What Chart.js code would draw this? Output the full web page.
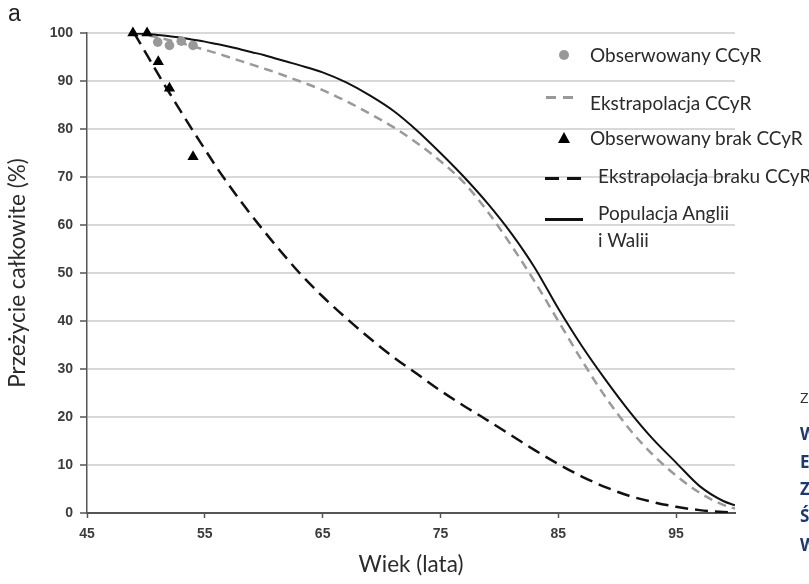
<!DOCTYPE html>
<html>
<head>
<meta charset="utf-8">
<script src="https://cdn.jsdelivr.net/npm/chart.js@4.4.0/dist/chart.umd.min.js"></script>
<style>
  html, body { margin: 0; padding: 0; background: #fff; }
  #wrap { position: relative; width: 809px; height: 584px; overflow: hidden; }
  #chart { position: absolute; left: 0; top: 0; }
  .panel { position: absolute; left: 8px; top: 0px; font: 23px "Liberation Sans", Arial, sans-serif; color: #222; }
  .leg { position: absolute; font: 19px Lato, sans-serif; color: #2b2b2b; white-space: nowrap; line-height: 27px; }
  .sym { position: absolute; }
  .side { position: absolute; left: 800px; font: bold 17px "Open Sans", sans-serif; color: #1d3a6e; }
</style>
</head>
<body>
<div id="wrap">
  <canvas id="chart" width="809" height="584"></canvas>
  <div class="panel">a</div>

  <!-- legend -->
  <div class="sym" style="left:559px;top:50px;width:10px;height:10px;border-radius:50%;background:#999;"></div>
  <div class="leg" style="left:590px;top:41px;">Obserwowany CCyR</div>

  <div class="sym" style="left:546px;top:96px;width:31px;height:2.5px;background:repeating-linear-gradient(90deg,#999 0 10px,transparent 10px 17px);"></div>
  <div class="leg" style="left:590px;top:89px;">Ekstrapolacja CCyR</div>

  <div class="sym" style="left:558px;top:132px;width:0;height:0;border-left:6px solid transparent;border-right:6px solid transparent;border-bottom:11px solid #000;"></div>
  <div class="leg" style="left:590px;top:124px;">Obserwowany brak CCyR</div>

  <div class="sym" style="left:545px;top:177px;width:38px;height:2.5px;background:repeating-linear-gradient(90deg,#111 0 14px,transparent 14px 22px);"></div>
  <div class="leg" style="left:598px;top:162px;">Ekstrapolacja braku CCyR</div>

  <div class="sym" style="left:545px;top:218px;width:38px;height:2.5px;background:#111;"></div>
  <div class="leg" style="left:598px;top:199px;">Populacja Anglii<br>i Walii</div>

  <!-- text cut off at the right edge -->
  <div class="side" style="top:387px;font-weight:normal;color:#333;font-size:15px;">Z</div>
  <div class="side" style="top:422px;">W</div>
  <div class="side" style="top:450px;">E</div>
  <div class="side" style="top:477px;">Z</div>
  <div class="side" style="top:504px;">Ś</div>
  <div class="side" style="top:533px;">W</div>
</div>

<script>
// ages (lata) shared by the three curves
const ages = [49, 50, 51, 52, 53, 54, 55, 56, 57, 58, 59, 60, 61, 62, 63,
              65, 67, 69, 71, 73, 75, 77, 79, 81, 83, 85, 87, 89, 91, 93, 95, 97, 99, 100];

// Populacja Anglii i Walii
const survPopulation = [100, 99.8, 99.6, 99.3, 99.0, 98.6, 98.2, 97.7, 97.2, 96.6, 96.0, 95.4, 94.7, 94.0, 93.3,
                        91.8, 89.7, 87.0, 83.8, 79.7, 75.0, 70.0, 64.5, 58.3, 51.1, 42.6, 34.8, 27.8, 21.3, 15.5, 10.5, 5.6, 2.5, 1.6];

// Ekstrapolacja CCyR
const survCcyrFit = [100, 99.6, 99.1, 98.5, 97.9, 97.2, 96.5, 95.8, 95.0, 94.2, 93.4, 92.6, 91.8, 90.9, 90.0,
                     88.1, 85.8, 83.2, 80.4, 77.1, 73.3, 68.8, 62.8, 55.8, 48.2, 40.0, 31.8, 24.2, 17.6, 12.2, 7.8, 4.2, 1.7, 0.9];

// Ekstrapolacja braku CCyR
const survNoCcyrFit = [100, 95.8, 91.6, 87.5, 83.5, 79.6, 75.8, 72.0, 68.5, 65.1, 61.9, 58.8, 55.8, 52.9, 50.1,
                       45.1, 40.6, 36.4, 32.5, 29.0, 25.5, 22.3, 19.3, 16.2, 13.1, 10.2, 7.6, 5.4, 3.6, 2.3, 1.3, 0.6, 0.2, 0.1];

// observed points
const obsCcyrAge = [51, 52, 53, 54];
const obsCcyrSurv = [98.1, 97.4, 98.3, 97.4];
const obsNoCcyrAge = [48.9, 50.1, 51.05, 52.0, 54.0];
const obsNoCcyrSurv = [100, 100, 94, 88.5, 74.2];

const xTicks = [45, 55, 65, 75, 85, 95];
const yTicks = [0, 10, 20, 30, 40, 50, 60, 70, 80, 90, 100];

function toPoints(xs, ys) {
    return xs.map((x, i) => ({ x: x, y: ys[i] }));
}

const tickFont = { family: 'Liberation Sans', size: 14, weight: 'bold' };
const titleFont = { family: 'Lato', size: 22.5 };

new Chart(document.getElementById('chart'), {
    type: 'scatter',
    data: {
        datasets: [
            {
                label: 'Obserwowany CCyR',
                data: toPoints(obsCcyrAge, obsCcyrSurv),
                pointStyle: 'circle',
                pointRadius: 4.8,
                backgroundColor: '#999',
                borderColor: '#999',
                borderWidth: 0,
                clip: false,
                order: 1
            },
            {
                label: 'Obserwowany brak CCyR',
                data: toPoints(obsNoCcyrAge, obsNoCcyrSurv),
                pointStyle: 'triangle',
                pointRadius: 6.5,
                backgroundColor: '#000',
                borderColor: '#000',
                borderWidth: 0,
                clip: false,
                order: 0
            },
            {
                label: 'Ekstrapolacja CCyR',
                data: toPoints(ages, survCcyrFit),
                showLine: true,
                pointRadius: 0,
                borderColor: '#9a9a9a',
                borderWidth: 2.5,
                borderDash: [9, 6],
                cubicInterpolationMode: 'monotone',
                order: 4
            },
            {
                label: 'Ekstrapolacja braku CCyR',
                data: toPoints(ages, survNoCcyrFit),
                showLine: true,
                pointRadius: 0,
                borderColor: '#111',
                borderWidth: 2.5,
                borderDash: [13, 7],
                cubicInterpolationMode: 'monotone',
                order: 3
            },
            {
                label: 'Populacja Anglii i Walii',
                data: toPoints(ages, survPopulation),
                showLine: true,
                pointRadius: 0,
                borderColor: '#111',
                borderWidth: 2,
                cubicInterpolationMode: 'monotone',
                order: 2
            }
        ]
    },
    options: {
        responsive: false,
        animation: false,
        layout: { padding: { left: 0, top: 33, right: 74, bottom: 0 } },
        plugins: {
            legend: { display: false },
            tooltip: { enabled: false }
        },
        scales: {
            x: {
                type: 'linear',
                min: 45,
                max: 100,
                afterBuildTicks: s => { s.ticks = xTicks.map(v => ({ value: v })); },
                afterFit: s => { s.height = 71; },
                ticks: { font: tickFont, color: '#3c3c3c', padding: 8 },
                grid: { drawOnChartArea: false, tickLength: 5, tickColor: '#555', tickWidth: 1.5 },
                border: { color: '#555', width: 2 },
                title: {
                    display: true,
                    text: 'Wiek (lata)',
                    font: titleFont,
                    color: '#2b2b2b',
                    padding: { top: 0, bottom: 6 }
                }
            },
            y: {
                min: 0,
                max: 100,
                afterBuildTicks: s => { s.ticks = yTicks.map(v => ({ value: v })); },
                afterFit: s => { s.width = 87; },
                ticks: { font: tickFont, color: '#3c3c3c', padding: 7 },
                grid: {
                    color: c => (c.tick && c.tick.value === 0) ? 'rgba(0,0,0,0)' : '#d9d9d9',
                    lineWidth: 2,
                    tickLength: 7,
                    tickColor: '#555',
                    tickWidth: 1.5
                },
                border: { color: '#555', width: 1.5 },
                title: {
                    display: true,
                    text: 'Przeżycie całkowite (%)',
                    font: titleFont,
                    color: '#2b2b2b',
                    padding: { top: 4, bottom: 0 }
                }
            }
        }
    }
});
</script>
</body>
</html>
